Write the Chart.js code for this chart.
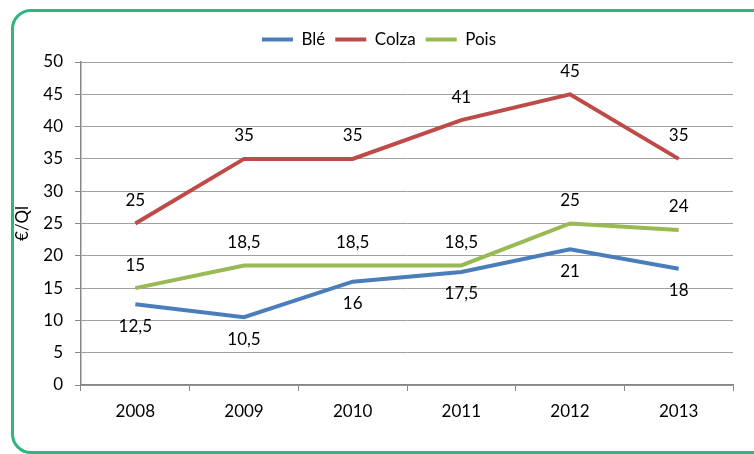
<!DOCTYPE html>
<html>
<head>
<meta charset="utf-8">
<script src="https://cdn.jsdelivr.net/npm/chart.js@4"></script>
<style>
  body { margin: 0; background: #fff; }
  .cadre { position: absolute; left: 11px; top: 9px; width: 800px; height: 439px;
           border: 3px solid #2fb67f; border-radius: 20px; }
  #graphique { position: absolute; left: 0; top: 0; }
</style>
</head>
<body>
<div class="cadre"></div>
<canvas id="graphique" width="754" height="454"></canvas>
<script>
// données (€/Ql)
const annees = ['2008', '2009', '2010', '2011', '2012', '2013'];
const ble = [12.5, 10.5, 16, 17.5, 21, 18];
const colza = [25, 35, 35, 41, 45, 35];
const pois = [15, 18.5, 18.5, 18.5, 25, 24];

const police = "Lato, 'DejaVu Sans', sans-serif";
Chart.defaults.font.family = police;
Chart.defaults.color = '#000';

// étiquettes de valeur (au-dessus ou en dessous des points)
const etiquettes = {
  id: 'etiquettes',
  afterDatasetsDraw(chart) {
    const ctx = chart.ctx;
    ctx.save();
    ctx.font = '17px ' + police;
    ctx.fillStyle = '#000';
    ctx.textAlign = 'center';
    ctx.textBaseline = 'middle';
    chart.data.datasets.forEach((ds, i) => {
      const meta = chart.getDatasetMeta(i);
      meta.data.forEach((pt, j) => {
        const decalage = ds.position === 'dessous' ? 22 : -23;
        ctx.fillText(String(ds.data[j]).replace('.', ','), pt.x, pt.y + decalage);
      });
    });
    ctx.restore();
  }
};

// petite marge sous la légende + léger décalage vers la droite
const margeLegende = {
  id: 'margeLegende',
  beforeInit(chart) {
    const fit = chart.legend.fit;
    chart.legend.fit = function () {
      fit.bind(chart.legend)();
      this.height += 4;
    };
  },
  afterLayout(chart) {
    chart.legend.left += 25;
  }
};

new Chart(document.getElementById('graphique'), {
  type: 'line',
  data: {
    labels: annees,
    datasets: [
      { label: 'Blé', data: ble, borderColor: '#4a7ebb', backgroundColor: '#4a7ebb', position: 'dessous' },
      { label: 'Colza', data: colza, borderColor: '#be4b48', backgroundColor: '#be4b48' },
      { label: 'Pois', data: pois, borderColor: '#98b954', backgroundColor: '#98b954' }
    ]
  },
  options: {
    responsive: false,
    animation: false,
    layout: { padding: { top: 21, right: 21, bottom: 0, left: 0 } },
    elements: {
      line: { borderWidth: 4, tension: 0 },
      point: { radius: 0, hoverRadius: 0 }
    },
    plugins: {
      tooltip: { enabled: false },
      legend: {
        position: 'top',
        labels: {
          boxWidth: 31,
          boxHeight: 4,
          padding: 10,
          font: { size: 17 },
          generateLabels(chart) {
            return Chart.defaults.plugins.legend.labels.generateLabels(chart).map(l => {
              l.lineWidth = 0;
              l.fillStyle = l.strokeStyle;
              return l;
            });
          }
        }
      }
    },
    scales: {
      x: {
        offset: true,
        grid: { drawOnChartArea: false, drawTicks: true, tickLength: 6, tickColor: '#868686', offset: true },
        border: { color: '#868686', width: 1.5 },
        ticks: { font: { size: 17 }, padding: 10 },
        afterFit(scale) { scale.height = 69; }
      },
      y: {
        min: 0,
        max: 50,
        ticks: { stepSize: 5, font: { size: 17 }, padding: 12 },
        grid: { color: '#a0a0a0', borderDash: [1, 1], tickBorderDash: [], tickColor: '#868686', tickLength: 6 },
        border: { color: '#868686', width: 1.5 },
        title: { display: true, text: '€/Ql', font: { size: 17 }, padding: { top: 12, bottom: 0 } },
        afterFit(scale) { scale.width = 81; }
      }
    }
  },
  plugins: [etiquettes, margeLegende]
});
</script>
</body>
</html>
